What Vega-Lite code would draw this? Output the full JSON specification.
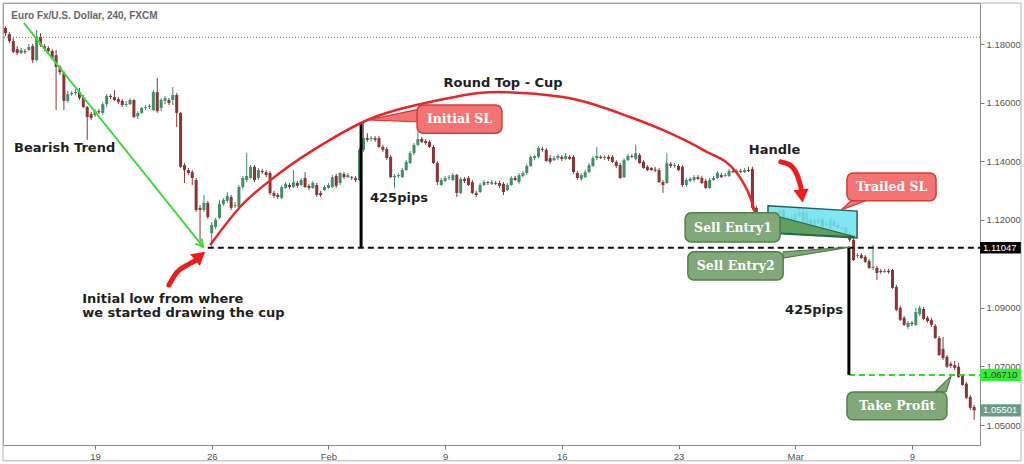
{
  "$schema": "https://vega.github.io/schema/vega-lite/v6.json",
  "width": 977,
  "height": 442,
  "autosize": {"type": "none"},
  "padding": {"left": 3, "top": 3, "right": 44, "bottom": 19},
  "background": "white",
  "config": {
    "view": {"stroke": "#8c8c8c", "strokeWidth": 1},
    "axis": {
      "grid": false,
      "labelFont": "Liberation Sans",
      "labelFontSize": 9.5,
      "labelColor": "#555555",
      "tickColor": "#777777",
      "domainColor": "#8c8c8c",
      "tickSize": 4,
      "labelPadding": 2
    }
  },
  "datasets": {
    "candles": [
      {"i":-23,"o":1.1855,"h":1.1861,"l":1.1827,"c":1.1837},
      {"i":-22,"o":1.1834,"h":1.1841,"l":1.1803,"c":1.1810},
      {"i":-21,"o":1.1810,"h":1.1820,"l":1.1769,"c":1.1773},
      {"i":-20,"o":1.1783,"h":1.1793,"l":1.1762,"c":1.1769},
      {"i":-19,"o":1.1769,"h":1.1786,"l":1.1766,"c":1.1780},
      {"i":-18,"o":1.1776,"h":1.1783,"l":1.1766,"c":1.1773},
      {"i":-17,"o":1.1780,"h":1.1800,"l":1.1776,"c":1.1790},
      {"i":-16,"o":1.1793,"h":1.1800,"l":1.1735,"c":1.1745},
      {"i":-15,"o":1.1745,"h":1.1848,"l":1.1742,"c":1.1824},
      {"i":-14,"o":1.1824,"h":1.1837,"l":1.1790,"c":1.1797},
      {"i":-13,"o":1.1793,"h":1.1800,"l":1.1776,"c":1.1783},
      {"i":-12,"o":1.1786,"h":1.1793,"l":1.1773,"c":1.1776},
      {"i":-11,"o":1.1776,"h":1.1783,"l":1.1745,"c":1.1752},
      {"i":-10,"o":1.1762,"h":1.1780,"l":1.1575,"c":1.1722},
      {"i":-9,"o":1.1722,"h":1.1728,"l":1.1694,"c":1.1704},
      {"i":-8,"o":1.1701,"h":1.1708,"l":1.1575,"c":1.1606},
      {"i":-7,"o":1.1606,"h":1.1640,"l":1.1599,"c":1.1629},
      {"i":-6,"o":1.1629,"h":1.1640,"l":1.1623,"c":1.1633},
      {"i":-5,"o":1.1633,"h":1.1647,"l":1.1626,"c":1.1636},
      {"i":-4,"o":1.1636,"h":1.1650,"l":1.1609,"c":1.1616},
      {"i":-3,"o":1.1619,"h":1.1626,"l":1.1582,"c":1.1585},
      {"i":-2,"o":1.1585,"h":1.1589,"l":1.1473,"c":1.1551},
      {"i":-1,"o":1.1561,"h":1.1568,"l":1.1541,"c":1.1548},
      {"i":0,"o":1.1558,"h":1.1578,"l":1.1551,"c":1.1571},
      {"i":1,"o":1.1571,"h":1.1578,"l":1.1561,"c":1.1568},
      {"i":2,"o":1.1565,"h":1.1602,"l":1.1558,"c":1.1595},
      {"i":3,"o":1.1595,"h":1.1629,"l":1.1585,"c":1.1623},
      {"i":4,"o":1.1623,"h":1.1629,"l":1.1612,"c":1.1619},
      {"i":5,"o":1.1619,"h":1.1643,"l":1.1606,"c":1.1609},
      {"i":6,"o":1.1612,"h":1.1619,"l":1.1595,"c":1.1602},
      {"i":7,"o":1.1606,"h":1.1612,"l":1.1585,"c":1.1592},
      {"i":8,"o":1.1592,"h":1.1606,"l":1.1585,"c":1.1595},
      {"i":9,"o":1.1595,"h":1.1616,"l":1.1592,"c":1.1609},
      {"i":10,"o":1.1609,"h":1.1612,"l":1.1548,"c":1.1551},
      {"i":11,"o":1.1554,"h":1.1571,"l":1.1544,"c":1.1565},
      {"i":12,"o":1.1565,"h":1.1585,"l":1.1561,"c":1.1582},
      {"i":13,"o":1.1582,"h":1.1592,"l":1.1575,"c":1.1585},
      {"i":14,"o":1.1585,"h":1.1595,"l":1.1578,"c":1.1589},
      {"i":15,"o":1.1575,"h":1.1643,"l":1.1571,"c":1.1636},
      {"i":16,"o":1.1636,"h":1.1684,"l":1.1565,"c":1.1571},
      {"i":17,"o":1.1582,"h":1.1616,"l":1.1571,"c":1.1609},
      {"i":18,"o":1.1606,"h":1.1623,"l":1.1595,"c":1.1616},
      {"i":19,"o":1.1609,"h":1.1616,"l":1.1592,"c":1.1599},
      {"i":20,"o":1.1609,"h":1.1653,"l":1.1592,"c":1.1626},
      {"i":21,"o":1.1626,"h":1.1633,"l":1.1517,"c":1.1565},
      {"i":22,"o":1.1565,"h":1.1568,"l":1.1377,"c":1.1381},
      {"i":23,"o":1.1387,"h":1.1394,"l":1.1326,"c":1.1370},
      {"i":24,"o":1.1370,"h":1.1377,"l":1.1353,"c":1.1360},
      {"i":25,"o":1.1363,"h":1.1370,"l":1.1319,"c":1.1343},
      {"i":26,"o":1.1336,"h":1.1343,"l":1.1227,"c":1.1234},
      {"i":27,"o":1.1241,"h":1.1251,"l":1.1115,"c":1.1234},
      {"i":28,"o":1.1234,"h":1.1285,"l":1.1227,"c":1.1258},
      {"i":29,"o":1.1258,"h":1.1265,"l":1.1203,"c":1.1210},
      {"i":30,"o":1.1155,"h":1.1193,"l":1.1105,"c":1.1183},
      {"i":31,"o":1.1176,"h":1.1207,"l":1.1169,"c":1.1200},
      {"i":32,"o":1.1207,"h":1.1268,"l":1.1203,"c":1.1254},
      {"i":33,"o":1.1254,"h":1.1275,"l":1.1248,"c":1.1268},
      {"i":34,"o":1.1265,"h":1.1295,"l":1.1258,"c":1.1282},
      {"i":35,"o":1.1278,"h":1.1285,"l":1.1234,"c":1.1241},
      {"i":36,"o":1.1248,"h":1.1261,"l":1.1241,"c":1.1251},
      {"i":37,"o":1.1244,"h":1.1319,"l":1.1241,"c":1.1312},
      {"i":38,"o":1.1312,"h":1.1350,"l":1.1306,"c":1.1343},
      {"i":39,"o":1.1336,"h":1.1428,"l":1.1329,"c":1.1350},
      {"i":40,"o":1.1343,"h":1.1387,"l":1.1340,"c":1.1381},
      {"i":41,"o":1.1381,"h":1.1387,"l":1.1329,"c":1.1336},
      {"i":42,"o":1.1343,"h":1.1377,"l":1.1336,"c":1.1370},
      {"i":43,"o":1.1367,"h":1.1374,"l":1.1357,"c":1.1363},
      {"i":44,"o":1.1363,"h":1.1370,"l":1.1346,"c":1.1353},
      {"i":45,"o":1.1360,"h":1.1367,"l":1.1285,"c":1.1292},
      {"i":46,"o":1.1292,"h":1.1299,"l":1.1275,"c":1.1282},
      {"i":47,"o":1.1285,"h":1.1292,"l":1.1271,"c":1.1278},
      {"i":48,"o":1.1275,"h":1.1319,"l":1.1271,"c":1.1312},
      {"i":49,"o":1.1309,"h":1.1329,"l":1.1306,"c":1.1323},
      {"i":50,"o":1.1319,"h":1.1326,"l":1.1306,"c":1.1312},
      {"i":51,"o":1.1312,"h":1.1370,"l":1.1309,"c":1.1329},
      {"i":52,"o":1.1326,"h":1.1333,"l":1.1309,"c":1.1316},
      {"i":53,"o":1.1319,"h":1.1343,"l":1.1316,"c":1.1336},
      {"i":54,"o":1.1343,"h":1.1363,"l":1.1309,"c":1.1312},
      {"i":55,"o":1.1316,"h":1.1323,"l":1.1302,"c":1.1309},
      {"i":56,"o":1.1309,"h":1.1333,"l":1.1306,"c":1.1326},
      {"i":57,"o":1.1319,"h":1.1326,"l":1.1278,"c":1.1285},
      {"i":58,"o":1.1292,"h":1.1299,"l":1.1278,"c":1.1285},
      {"i":59,"o":1.1302,"h":1.1319,"l":1.1299,"c":1.1312},
      {"i":60,"o":1.1309,"h":1.1326,"l":1.1306,"c":1.1319},
      {"i":61,"o":1.1312,"h":1.1353,"l":1.1309,"c":1.1346},
      {"i":62,"o":1.1350,"h":1.1357,"l":1.1309,"c":1.1316},
      {"i":63,"o":1.1326,"h":1.1363,"l":1.1319,"c":1.1360},
      {"i":64,"o":1.1357,"h":1.1363,"l":1.1340,"c":1.1346},
      {"i":65,"o":1.1346,"h":1.1360,"l":1.1343,"c":1.1353},
      {"i":66,"o":1.1346,"h":1.1350,"l":1.1336,"c":1.1343},
      {"i":67,"o":1.1343,"h":1.1350,"l":1.1329,"c":1.1336},
      {"i":68,"o":1.1336,"h":1.1445,"l":1.1333,"c":1.1439},
      {"i":69,"o":1.1439,"h":1.1531,"l":1.1432,"c":1.1479},
      {"i":70,"o":1.1479,"h":1.1496,"l":1.1466,"c":1.1473},
      {"i":71,"o":1.1476,"h":1.1486,"l":1.1469,"c":1.1479},
      {"i":72,"o":1.1479,"h":1.1486,"l":1.1466,"c":1.1473},
      {"i":73,"o":1.1479,"h":1.1486,"l":1.1445,"c":1.1449},
      {"i":74,"o":1.1449,"h":1.1456,"l":1.1432,"c":1.1439},
      {"i":75,"o":1.1442,"h":1.1449,"l":1.1404,"c":1.1411},
      {"i":76,"o":1.1415,"h":1.1421,"l":1.1343,"c":1.1346},
      {"i":77,"o":1.1346,"h":1.1357,"l":1.1309,"c":1.1350},
      {"i":78,"o":1.1350,"h":1.1360,"l":1.1343,"c":1.1353},
      {"i":79,"o":1.1346,"h":1.1377,"l":1.1343,"c":1.1370},
      {"i":80,"o":1.1370,"h":1.1404,"l":1.1367,"c":1.1398},
      {"i":81,"o":1.1394,"h":1.1435,"l":1.1391,"c":1.1428},
      {"i":82,"o":1.1428,"h":1.1462,"l":1.1421,"c":1.1456},
      {"i":83,"o":1.1456,"h":1.1500,"l":1.1452,"c":1.1476},
      {"i":84,"o":1.1476,"h":1.1483,"l":1.1462,"c":1.1466},
      {"i":85,"o":1.1469,"h":1.1476,"l":1.1456,"c":1.1462},
      {"i":86,"o":1.1466,"h":1.1473,"l":1.1445,"c":1.1449},
      {"i":87,"o":1.1449,"h":1.1456,"l":1.1391,"c":1.1394},
      {"i":88,"o":1.1394,"h":1.1401,"l":1.1319,"c":1.1329},
      {"i":89,"o":1.1319,"h":1.1343,"l":1.1316,"c":1.1336},
      {"i":90,"o":1.1333,"h":1.1350,"l":1.1329,"c":1.1343},
      {"i":91,"o":1.1343,"h":1.1353,"l":1.1336,"c":1.1346},
      {"i":92,"o":1.1336,"h":1.1360,"l":1.1333,"c":1.1353},
      {"i":93,"o":1.1353,"h":1.1357,"l":1.1278,"c":1.1292},
      {"i":94,"o":1.1292,"h":1.1346,"l":1.1288,"c":1.1340},
      {"i":95,"o":1.1340,"h":1.1346,"l":1.1326,"c":1.1333},
      {"i":96,"o":1.1343,"h":1.1350,"l":1.1316,"c":1.1319},
      {"i":97,"o":1.1329,"h":1.1336,"l":1.1288,"c":1.1292},
      {"i":98,"o":1.1292,"h":1.1299,"l":1.1278,"c":1.1285},
      {"i":99,"o":1.1295,"h":1.1326,"l":1.1292,"c":1.1319},
      {"i":100,"o":1.1319,"h":1.1336,"l":1.1316,"c":1.1329},
      {"i":101,"o":1.1329,"h":1.1333,"l":1.1319,"c":1.1326},
      {"i":102,"o":1.1323,"h":1.1336,"l":1.1319,"c":1.1329},
      {"i":103,"o":1.1326,"h":1.1333,"l":1.1319,"c":1.1323},
      {"i":104,"o":1.1326,"h":1.1333,"l":1.1309,"c":1.1316},
      {"i":105,"o":1.1323,"h":1.1329,"l":1.1285,"c":1.1295},
      {"i":106,"o":1.1302,"h":1.1326,"l":1.1299,"c":1.1319},
      {"i":107,"o":1.1319,"h":1.1350,"l":1.1316,"c":1.1343},
      {"i":108,"o":1.1343,"h":1.1350,"l":1.1333,"c":1.1336},
      {"i":109,"o":1.1329,"h":1.1360,"l":1.1323,"c":1.1353},
      {"i":110,"o":1.1350,"h":1.1367,"l":1.1346,"c":1.1360},
      {"i":111,"o":1.1360,"h":1.1391,"l":1.1353,"c":1.1384},
      {"i":112,"o":1.1384,"h":1.1421,"l":1.1381,"c":1.1415},
      {"i":113,"o":1.1411,"h":1.1421,"l":1.1404,"c":1.1418},
      {"i":114,"o":1.1415,"h":1.1452,"l":1.1411,"c":1.1445},
      {"i":115,"o":1.1442,"h":1.1449,"l":1.1432,"c":1.1439},
      {"i":116,"o":1.1439,"h":1.1445,"l":1.1398,"c":1.1401},
      {"i":117,"o":1.1411,"h":1.1421,"l":1.1391,"c":1.1398},
      {"i":118,"o":1.1404,"h":1.1418,"l":1.1401,"c":1.1411},
      {"i":119,"o":1.1411,"h":1.1425,"l":1.1404,"c":1.1418},
      {"i":120,"o":1.1415,"h":1.1421,"l":1.1401,"c":1.1408},
      {"i":121,"o":1.1408,"h":1.1428,"l":1.1404,"c":1.1418},
      {"i":122,"o":1.1415,"h":1.1421,"l":1.1404,"c":1.1408},
      {"i":123,"o":1.1415,"h":1.1421,"l":1.1357,"c":1.1363},
      {"i":124,"o":1.1360,"h":1.1367,"l":1.1336,"c":1.1343},
      {"i":125,"o":1.1340,"h":1.1360,"l":1.1333,"c":1.1353},
      {"i":126,"o":1.1346,"h":1.1370,"l":1.1343,"c":1.1363},
      {"i":127,"o":1.1363,"h":1.1394,"l":1.1360,"c":1.1387},
      {"i":128,"o":1.1384,"h":1.1418,"l":1.1381,"c":1.1411},
      {"i":129,"o":1.1411,"h":1.1449,"l":1.1404,"c":1.1418},
      {"i":130,"o":1.1415,"h":1.1421,"l":1.1408,"c":1.1411},
      {"i":131,"o":1.1411,"h":1.1421,"l":1.1404,"c":1.1415},
      {"i":132,"o":1.1415,"h":1.1421,"l":1.1401,"c":1.1408},
      {"i":133,"o":1.1415,"h":1.1421,"l":1.1394,"c":1.1398},
      {"i":134,"o":1.1398,"h":1.1404,"l":1.1377,"c":1.1384},
      {"i":135,"o":1.1387,"h":1.1394,"l":1.1340,"c":1.1343},
      {"i":136,"o":1.1346,"h":1.1411,"l":1.1343,"c":1.1404},
      {"i":137,"o":1.1404,"h":1.1425,"l":1.1401,"c":1.1418},
      {"i":138,"o":1.1418,"h":1.1425,"l":1.1411,"c":1.1415},
      {"i":139,"o":1.1408,"h":1.1456,"l":1.1404,"c":1.1428},
      {"i":140,"o":1.1421,"h":1.1428,"l":1.1391,"c":1.1394},
      {"i":141,"o":1.1398,"h":1.1404,"l":1.1374,"c":1.1377},
      {"i":142,"o":1.1381,"h":1.1387,"l":1.1367,"c":1.1370},
      {"i":143,"o":1.1377,"h":1.1381,"l":1.1367,"c":1.1370},
      {"i":144,"o":1.1372,"h":1.1381,"l":1.1363,"c":1.1368},
      {"i":145,"o":1.1370,"h":1.1377,"l":1.1326,"c":1.1329},
      {"i":146,"o":1.1329,"h":1.1336,"l":1.1292,"c":1.1319},
      {"i":147,"o":1.1326,"h":1.1428,"l":1.1323,"c":1.1394},
      {"i":148,"o":1.1391,"h":1.1398,"l":1.1377,"c":1.1384},
      {"i":149,"o":1.1384,"h":1.1394,"l":1.1377,"c":1.1387},
      {"i":150,"o":1.1384,"h":1.1391,"l":1.1367,"c":1.1370},
      {"i":151,"o":1.1381,"h":1.1387,"l":1.1312,"c":1.1319},
      {"i":152,"o":1.1319,"h":1.1343,"l":1.1312,"c":1.1336},
      {"i":153,"o":1.1333,"h":1.1346,"l":1.1329,"c":1.1340},
      {"i":154,"o":1.1336,"h":1.1353,"l":1.1329,"c":1.1346},
      {"i":155,"o":1.1346,"h":1.1353,"l":1.1336,"c":1.1340},
      {"i":156,"o":1.1343,"h":1.1350,"l":1.1323,"c":1.1326},
      {"i":157,"o":1.1333,"h":1.1340,"l":1.1306,"c":1.1309},
      {"i":158,"o":1.1309,"h":1.1343,"l":1.1306,"c":1.1336},
      {"i":159,"o":1.1336,"h":1.1350,"l":1.1333,"c":1.1343},
      {"i":160,"o":1.1343,"h":1.1367,"l":1.1340,"c":1.1360},
      {"i":161,"o":1.1353,"h":1.1360,"l":1.1343,"c":1.1346},
      {"i":162,"o":1.1350,"h":1.1360,"l":1.1346,"c":1.1353},
      {"i":163,"o":1.1350,"h":1.1374,"l":1.1346,"c":1.1367},
      {"i":164,"o":1.1367,"h":1.1374,"l":1.1360,"c":1.1363},
      {"i":165,"o":1.1363,"h":1.1374,"l":1.1360,"c":1.1367},
      {"i":166,"o":1.1367,"h":1.1374,"l":1.1360,"c":1.1363},
      {"i":167,"o":1.1363,"h":1.1377,"l":1.1360,"c":1.1370},
      {"i":168,"o":1.1370,"h":1.1381,"l":1.1363,"c":1.1367},
      {"i":169,"o":1.1374,"h":1.1381,"l":1.1234,"c":1.1241},
      {"i":170,"o":1.1241,"h":1.1248,"l":1.1193,"c":1.1200},
      {"i":171,"o":1.1207,"h":1.1217,"l":1.1200,"c":1.1210},
      {"i":172,"o":1.1207,"h":1.1227,"l":1.1203,"c":1.1220},
      {"i":173,"o":1.1203,"h":1.1224,"l":1.1200,"c":1.1217},
      {"i":174,"o":1.1214,"h":1.1230,"l":1.1210,"c":1.1224},
      {"i":175,"o":1.1224,"h":1.1234,"l":1.1220,"c":1.1227},
      {"i":176,"o":1.1224,"h":1.1237,"l":1.1220,"c":1.1230},
      {"i":177,"o":1.1230,"h":1.1237,"l":1.1203,"c":1.1207},
      {"i":178,"o":1.1207,"h":1.1214,"l":1.1200,"c":1.1203},
      {"i":179,"o":1.1203,"h":1.1217,"l":1.1196,"c":1.1210},
      {"i":180,"o":1.1193,"h":1.1227,"l":1.1190,"c":1.1220},
      {"i":181,"o":1.1214,"h":1.1244,"l":1.1210,"c":1.1227},
      {"i":182,"o":1.1227,"h":1.1241,"l":1.1173,"c":1.1176},
      {"i":183,"o":1.1179,"h":1.1230,"l":1.1176,"c":1.1224},
      {"i":184,"o":1.1200,"h":1.1207,"l":1.1179,"c":1.1186},
      {"i":185,"o":1.1183,"h":1.1207,"l":1.1179,"c":1.1200},
      {"i":186,"o":1.1200,"h":1.1207,"l":1.1186,"c":1.1193},
      {"i":187,"o":1.1203,"h":1.1207,"l":1.1173,"c":1.1176},
      {"i":188,"o":1.1186,"h":1.1196,"l":1.1179,"c":1.1183},
      {"i":189,"o":1.1173,"h":1.1210,"l":1.1169,"c":1.1203},
      {"i":190,"o":1.1193,"h":1.1200,"l":1.1176,"c":1.1179},
      {"i":191,"o":1.1183,"h":1.1190,"l":1.1169,"c":1.1173},
      {"i":192,"o":1.1173,"h":1.1179,"l":1.1166,"c":1.1169},
      {"i":193,"o":1.1173,"h":1.1179,"l":1.1152,"c":1.1155},
      {"i":194,"o":1.1152,"h":1.1159,"l":1.1125,"c":1.1132},
      {"i":195,"o":1.1132,"h":1.1142,"l":1.1060,"c":1.1063},
      {"i":196,"o":1.1077,"h":1.1087,"l":1.1070,"c":1.1080},
      {"i":197,"o":1.1080,"h":1.1087,"l":1.1067,"c":1.1070},
      {"i":198,"o":1.1074,"h":1.1080,"l":1.1053,"c":1.1057},
      {"i":199,"o":1.1060,"h":1.1067,"l":1.1033,"c":1.1036},
      {"i":200,"o":1.1036,"h":1.1115,"l":1.1029,"c":1.1040},
      {"i":201,"o":1.1036,"h":1.1043,"l":1.0995,"c":1.1019},
      {"i":202,"o":1.1026,"h":1.1033,"l":1.1016,"c":1.1022},
      {"i":203,"o":1.1022,"h":1.1033,"l":1.1019,"c":1.1026},
      {"i":204,"o":1.1026,"h":1.1033,"l":1.1016,"c":1.1022},
      {"i":205,"o":1.1029,"h":1.1033,"l":1.0965,"c":1.0968},
      {"i":206,"o":1.0971,"h":1.0978,"l":1.0889,"c":1.0893},
      {"i":207,"o":1.0900,"h":1.0907,"l":1.0855,"c":1.0859},
      {"i":208,"o":1.0866,"h":1.0872,"l":1.0838,"c":1.0842},
      {"i":209,"o":1.0835,"h":1.0855,"l":1.0828,"c":1.0849},
      {"i":210,"o":1.0849,"h":1.0855,"l":1.0838,"c":1.0845},
      {"i":211,"o":1.0842,"h":1.0900,"l":1.0838,"c":1.0886},
      {"i":212,"o":1.0879,"h":1.0907,"l":1.0872,"c":1.0900},
      {"i":213,"o":1.0896,"h":1.0903,"l":1.0859,"c":1.0862},
      {"i":214,"o":1.0866,"h":1.0872,"l":1.0849,"c":1.0855},
      {"i":215,"o":1.0859,"h":1.0866,"l":1.0835,"c":1.0842},
      {"i":216,"o":1.0838,"h":1.0845,"l":1.0794,"c":1.0797},
      {"i":217,"o":1.0797,"h":1.0804,"l":1.0736,"c":1.0739},
      {"i":218,"o":1.0760,"h":1.0801,"l":1.0722,"c":1.0729},
      {"i":219,"o":1.0733,"h":1.0739,"l":1.0695,"c":1.0699},
      {"i":220,"o":1.0709,"h":1.0716,"l":1.0695,"c":1.0702},
      {"i":221,"o":1.0705,"h":1.0719,"l":1.0688,"c":1.0695},
      {"i":222,"o":1.0699,"h":1.0712,"l":1.0661,"c":1.0664},
      {"i":223,"o":1.0668,"h":1.0675,"l":1.0634,"c":1.0637},
      {"i":224,"o":1.0641,"h":1.0647,"l":1.0589,"c":1.0593},
      {"i":225,"o":1.0596,"h":1.0603,"l":1.0552,"c":1.0559},
      {"i":226,"o":1.0562,"h":1.0569,"l":1.0518,"c":1.0550}
    ]
  },
  "layer": [
    {
      "data": {"name": "candles"},
      "encoding": {
        "x": {
          "field": "i",
          "type": "quantitative",
          "scale": {"domain": [-23.65, 227.5], "nice": false, "zero": false},
          "axis": {
            "title": null,
            "values": [0, 30, 60, 90, 120, 150, 180, 210],
            "labelExpr": "['19','26','Feb','9','16','23','Mar','9'][round(datum.value/30)]"
          }
        },
        "color": {
          "condition": {"test": "datum.c >= datum.o", "value": "#3f8f67"},
          "value": "#8a3535"
        }
      },
      "layer": [
        {
          "mark": {"type": "rule", "strokeWidth": 1},
          "encoding": {
            "y": {
              "field": "l",
              "type": "quantitative",
              "scale": {"domain": [1.0432, 1.194], "nice": false, "zero": false},
              "axis": {
                "title": null,
                "orient": "right",
                "format": ".5f",
                "values": [1.05, 1.06, 1.07, 1.08, 1.09, 1.1, 1.12, 1.13, 1.14, 1.15, 1.16, 1.17, 1.18, 1.19]
              }
            },
            "y2": {"field": "h"}
          }
        },
        {
          "mark": {"type": "rule", "strokeWidth": 3},
          "encoding": {
            "y": {"field": "o", "type": "quantitative"},
            "y2": {"field": "c"}
          }
        }
      ]
    },
    {
      "data": {"values": [{"x": -23.65, "x2": 238.05, "y": 1.194, "y2": 1.0378}]},
      "mark": {"type": "rect", "fill": null, "fillOpacity": 0, "stroke": "#b4b4b4", "strokeWidth": 1},
      "encoding": {
        "x": {"field": "x", "type": "quantitative"},
        "x2": {"field": "x2"},
        "y": {"field": "y", "type": "quantitative"},
        "y2": {"field": "y2"}
      }
    },
    {
      "data": {"values": [{"p": 1.1823}]},
      "mark": {"type": "rule", "color": "#c0504d", "strokeDash": [1, 2], "strokeWidth": 1},
      "encoding": {"y": {"field": "p", "type": "quantitative"}}
    },
    {
      "data": {"values": [{"x": 173.0, "y": 1.1248, "y2": 1.1155}, {"x": 195.9, "y": 1.1230, "y2": 1.1138}]},
      "mark": {"type": "area", "fill": "#6fe3f0", "fillOpacity": 0.88, "stroke": "#1f6060", "strokeWidth": 1.5},
      "encoding": {
        "x": {"field": "x", "type": "quantitative"},
        "y": {"field": "y", "type": "quantitative"},
        "y2": {"field": "y2"}
      }
    },
    {
      "data": {"values": [
        {"x": 29.0, "x2": 227.5, "y": 1.11047, "k": "entry"},
        {"x": 193.8, "x2": 227.5, "y": 1.0671, "k": "target"}
      ]},
      "mark": {"type": "rule", "strokeDash": [6, 4], "strokeWidth": 2},
      "encoding": {
        "x": {"field": "x", "type": "quantitative"},
        "x2": {"field": "x2"},
        "y": {"field": "y", "type": "quantitative"},
        "color": {"condition": {"test": "datum.k == 'entry'", "value": "#111111"}, "value": "#2bdc2b"}
      }
    },
    {
      "data": {"values": [
        {"x": 68.4, "y": 1.1534, "y2": 1.11047},
        {"x": 193.8, "y": 1.11047, "y2": 1.0671}
      ]},
      "mark": {"type": "rule", "color": "#000000", "strokeWidth": 3},
      "encoding": {
        "x": {"field": "x", "type": "quantitative"},
        "y": {"field": "y", "type": "quantitative"},
        "y2": {"field": "y2"}
      }
    },
    {
      "data": {"values": [
        {"x": 29.6, "y": 1.1114}, {"x": 37.3, "y": 1.1244}, {"x": 46.8, "y": 1.1353},
        {"x": 60.4, "y": 1.1473}, {"x": 68.9, "y": 1.1534}, {"x": 86.1, "y": 1.1602},
        {"x": 103.3, "y": 1.1636}, {"x": 120.3, "y": 1.1619}, {"x": 137.5, "y": 1.1551},
        {"x": 147.8, "y": 1.1496}, {"x": 156.3, "y": 1.1439}, {"x": 165.0, "y": 1.1360},
        {"x": 168.4, "y": 1.1278}, {"x": 170.4, "y": 1.1193}
      ]},
      "mark": {"type": "line", "color": "#e8262a", "strokeWidth": 2.5, "interpolate": "monotone"},
      "encoding": {
        "x": {"field": "x", "type": "quantitative"},
        "y": {"field": "y", "type": "quantitative"}
      }
    },
    {
      "data": {"values": [{"x": -18.3, "y": 1.1872}, {"x": 27.8, "y": 1.1108}]},
      "mark": {"type": "line", "color": "#3ddc3d", "strokeWidth": 2},
      "encoding": {
        "x": {"field": "x", "type": "quantitative"},
        "y": {"field": "y", "type": "quantitative"}
      }
    },
    {
      "data": {"values": [{"x": 27.8, "y": 1.1108}]},
      "mark": {"type": "point", "shape": "M -0.6 1.1 L 0 0 L 0.6 1.1", "filled": false, "stroke": "#3ddc3d", "strokeWidth": 2, "size": 180, "angle": 141, "opacity": 1},
      "encoding": {
        "x": {"field": "x", "type": "quantitative"},
        "y": {"field": "y", "type": "quantitative"}
      }
    },
    {
      "data": {"values": [
        {"a": "low", "x": 19.0, "y": 1.0978}, {"a": "low", "x": 21.1, "y": 1.1022},
        {"a": "low", "x": 23.7, "y": 1.1046}, {"a": "low", "x": 25.7, "y": 1.1060},
        {"a": "handle", "x": 176.3, "y": 1.1398}, {"a": "handle", "x": 178.7, "y": 1.1387},
        {"a": "handle", "x": 180.7, "y": 1.1346}, {"a": "handle", "x": 181.5, "y": 1.1309}
      ]},
      "mark": {"type": "line", "color": "#ee1c1c", "strokeWidth": 5, "strokeCap": "round", "interpolate": "monotone"},
      "encoding": {
        "x": {"field": "x", "type": "quantitative"},
        "y": {"field": "y", "type": "quantitative"},
        "detail": {"field": "a"}
      }
    },
    {
      "data": {"values": [
        {"x": 27.0, "y": 1.1077, "ang": 50},
        {"x": 181.7, "y": 1.1282, "ang": 173}
      ]},
      "mark": {"type": "point", "shape": "triangle-up", "filled": true, "color": "#ee1c1c", "size": 230, "opacity": 1},
      "encoding": {
        "x": {"field": "x", "type": "quantitative"},
        "y": {"field": "y", "type": "quantitative"},
        "angle": {"field": "ang", "type": "quantitative", "scale": null}
      }
    },
    {
      "data": {"values": [
        {"b": "red", "x": 70.2, "y": 1.1541, "y2": 1.1541},
        {"b": "red", "x": 83.5, "y": 1.1578, "y2": 1.1534},
        {"b": "green1", "x": 176.1, "y": 1.1210, "y2": 1.1155},
        {"b": "green1", "x": 195.4, "y": 1.1142, "y2": 1.1142},
        {"b": "green2", "x": 176.9, "y": 1.1091, "y2": 1.1070},
        {"b": "green2", "x": 194.1, "y": 1.1107, "y2": 1.1107}
      ]},
      "mark": {"type": "area", "strokeWidth": 1.2},
      "encoding": {
        "x": {"field": "x", "type": "quantitative"},
        "y": {"field": "y", "type": "quantitative"},
        "y2": {"field": "y2"},
        "detail": {"field": "b"},
        "fill": {"condition": [{"test": "datum.b == 'red'", "value": "#f47373"}, {"test": "datum.b == 'green1'", "value": "#5f9f63"}], "value": "#80a878"},
        "stroke": {"condition": [{"test": "datum.b == 'red'", "value": "#d63a3a"}, {"test": "datum.b == 'green1'", "value": "#2f6a35"}], "value": "#527f4b"}
      }
    },
    {
      "data": {"values": [
        {"b": "red", "y": 1.1268, "x": 194.6, "x2": 198.7},
        {"b": "red", "y": 1.1234, "x": 191.8, "x2": 191.8},
        {"b": "green", "y": 1.0613, "x": 215.9, "x2": 218.8},
        {"b": "green", "y": 1.0668, "x": 220.1, "x2": 220.1}
      ]},
      "mark": {"type": "area", "orient": "horizontal", "strokeWidth": 1.2},
      "encoding": {
        "y": {"field": "y", "type": "quantitative"},
        "x": {"field": "x", "type": "quantitative"},
        "x2": {"field": "x2"},
        "detail": {"field": "b"},
        "fill": {"condition": {"test": "datum.b == 'red'", "value": "#f47373"}, "value": "#80a878"},
        "stroke": {"condition": {"test": "datum.b == 'red'", "value": "#d63a3a"}, "value": "#527f4b"}
      }
    },
    {
      "data": {"values": [
        {"b": "red", "x": 82.8, "x2": 104.6, "y": 1.1592, "y2": 1.1496},
        {"b": "red", "x": 193.3, "x2": 216.2, "y": 1.1360, "y2": 1.1265},
        {"b": "green", "x": 151.7, "x2": 176.1, "y": 1.1224, "y2": 1.1125},
        {"b": "green", "x": 152.4, "x2": 176.9, "y": 1.1091, "y2": 1.0995},
        {"b": "green", "x": 193.3, "x2": 219.0, "y": 1.0613, "y2": 1.0518}
      ]},
      "mark": {"type": "rect", "cornerRadius": 6, "strokeWidth": 1.5},
      "encoding": {
        "x": {"field": "x", "type": "quantitative"},
        "x2": {"field": "x2"},
        "y": {"field": "y", "type": "quantitative"},
        "y2": {"field": "y2"},
        "fill": {"condition": {"test": "datum.b == 'red'", "value": "#f47373"}, "value": "#80a878"},
        "stroke": {"condition": {"test": "datum.b == 'red'", "value": "#d63a3a"}, "value": "#527f4b"}
      }
    },
    {
      "data": {"values": [
        {"x": 93.7, "y": 1.1544, "t": "Initial SL"},
        {"x": 204.8, "y": 1.1312, "t": "Trailed SL"},
        {"x": 164.0, "y": 1.1174, "t": "Sell Entry1"},
        {"x": 164.7, "y": 1.1043, "t": "Sell Entry2"},
        {"x": 206.2, "y": 1.0566, "t": "Take Profit"}
      ]},
      "mark": {"type": "text", "font": "DejaVu Serif", "fontWeight": "bold", "fontSize": 12.5, "color": "#ffffff", "align": "center", "baseline": "middle"},
      "encoding": {
        "x": {"field": "x", "type": "quantitative"},
        "y": {"field": "y", "type": "quantitative"},
        "text": {"field": "t"}
      }
    },
    {
      "data": {"values": [
        {"x": -20.8, "y": 1.1445, "t": "Bearish Trend"},
        {"x": -3.3, "y": 1.0930, "t": "Initial low from where"},
        {"x": -3.3, "y": 1.0883, "t": "we started drawing the cup"},
        {"x": 70.7, "y": 1.1275, "t": "425pips"},
        {"x": 177.4, "y": 1.0893, "t": "425pips"}
      ]},
      "mark": {"type": "text", "font": "DejaVu Sans", "fontWeight": "bold", "fontSize": 13, "color": "#1f1f1f", "align": "left", "baseline": "middle"},
      "encoding": {
        "x": {"field": "x", "type": "quantitative"},
        "y": {"field": "y", "type": "quantitative"},
        "text": {"field": "t"}
      }
    },
    {
      "data": {"values": [
        {"x": 104.9, "y": 1.1667, "t": "Round Top - Cup"},
        {"x": 174.7, "y": 1.1439, "t": "Handle"}
      ]},
      "mark": {"type": "text", "font": "DejaVu Sans", "fontWeight": "bold", "fontSize": 13, "color": "#1f1f1f", "align": "center", "baseline": "middle"},
      "encoding": {
        "x": {"field": "x", "type": "quantitative"},
        "y": {"field": "y", "type": "quantitative"},
        "text": {"field": "t"}
      }
    },
    {
      "data": {"values": [{"x": -21.5, "y": 1.1896, "t": "Euro Fx/U.S. Dollar, 240, FXCM"}]},
      "mark": {"type": "text", "font": "Liberation Sans", "fontWeight": "bold", "fontSize": 10, "color": "#666666", "align": "left", "baseline": "middle"},
      "encoding": {
        "x": {"field": "x", "type": "quantitative"},
        "y": {"field": "y", "type": "quantitative"},
        "text": {"field": "t"}
      }
    },
    {
      "data": {"values": [
        {"k": "a", "x": 227.5, "x2": 238.0, "y": 1.1125, "y2": 1.1085, "ty": 1.11047, "t": "1.11047"},
        {"k": "b", "x": 227.5, "x2": 238.0, "y": 1.0692, "y2": 1.0650, "ty": 1.0671, "t": "1.06710"},
        {"k": "c", "x": 227.5, "x2": 238.0, "y": 1.0571, "y2": 1.0529, "ty": 1.05501, "t": "1.05501"}
      ]},
      "layer": [
        {
          "mark": {"type": "rect"},
          "encoding": {
            "x": {"field": "x", "type": "quantitative"},
            "x2": {"field": "x2"},
            "y": {"field": "y", "type": "quantitative"},
            "y2": {"field": "y2"},
            "fill": {"condition": [{"test": "datum.k == 'a'", "value": "#000000"}, {"test": "datum.k == 'b'", "value": "#33ee33"}], "value": "#6a9a88"}
          }
        },
        {
          "mark": {"type": "text", "font": "Liberation Sans", "fontSize": 9.5, "align": "left", "baseline": "middle", "dx": 3},
          "encoding": {
            "x": {"field": "x", "type": "quantitative"},
            "y": {"field": "ty", "type": "quantitative"},
            "text": {"field": "t"},
            "color": {"condition": {"test": "datum.k == 'b'", "value": "#333333"}, "value": "#ffffff"}
          }
        }
      ]
    }
  ]
}
